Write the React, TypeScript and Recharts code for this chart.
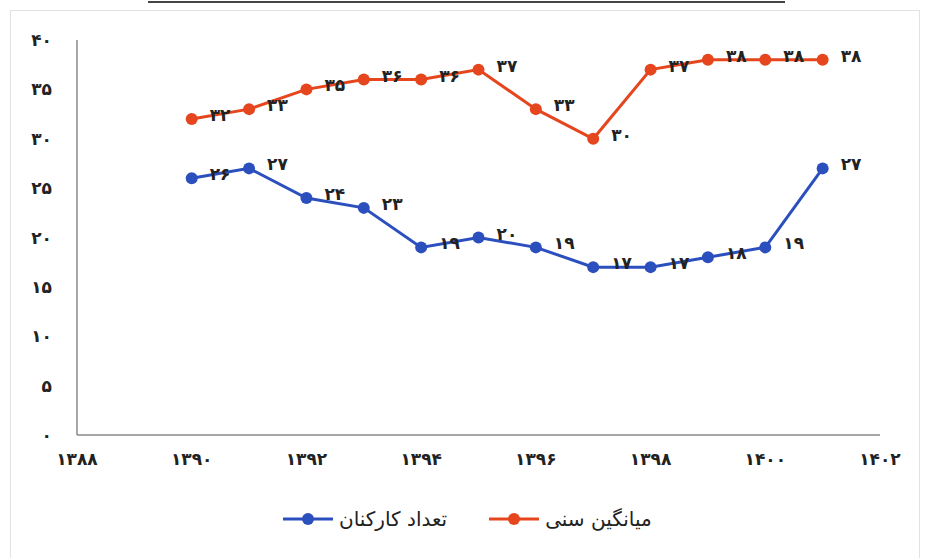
import React from "react";
import { LineChart, Line, XAxis, YAxis, Legend, LabelList } from "recharts";

const years = [1390, 1391, 1392, 1393, 1394, 1395, 1396, 1397, 1398, 1399, 1400, 1401];
const ageAvg = [32, 33, 35, 36, 36, 37, 33, 30, 37, 38, 38, 38];
const staffCount = [26, 27, 24, 23, 19, 20, 19, 17, 17, 18, 19, 27];
const xTicks = [1388, 1390, 1392, 1394, 1396, 1398, 1400, 1402];
const yTicks = [0, 5, 10, 15, 20, 25, 30, 35, 40];
const ageName = "میانگین سنی";
const staffName = "تعداد کارکنان";

const ORANGE = "#E5461E";
const BLUE = "#2C4FBE";
const FONT = "'DejaVu Sans', sans-serif";

const faDigits = "۰۱۲۳۴۵۶۷۸۹";
const toFa = (v: number | string) => String(v).replace(/[0-9]/g, (d) => faDigits[Number(d)]);

const data = years.map((y, i) => ({ year: y, age: ageAvg[i], staff: staffCount[i] }));

const LegendContent = () => {
  const item = (color: string, label: string) => (
    <div style={{ display: "flex", alignItems: "center", gap: 6 }}>
      <svg width={50} height={14}>
        <line x1={0} y1={7} x2={50} y2={7} stroke={color} strokeWidth={3} />
        <circle cx={25} cy={7} r={6} fill={color} />
      </svg>
      <span style={{ fontFamily: FONT, fontSize: 20, color: "#222" }}>{label}</span>
    </div>
  );
  return (
    <div style={{ display: "flex", justifyContent: "flex-start", gap: 42, paddingLeft: 283 }}>
      {item(BLUE, staffName)}
      {item(ORANGE, ageName)}
    </div>
  );
};

const labelStyle = { fontFamily: FONT, fontSize: 17, fontWeight: "bold", fill: "#222" };

export default function App() {
  return (
    <div style={{ position: "absolute", left: 0, top: 0, width: 925, height: 558, background: "#fff" }}>
      <div style={{ position: "absolute", left: 148, top: 1, width: 637, height: 2, background: "#444" }} />
      <div style={{ position: "absolute", left: 10, top: 10, width: 908, height: 560, border: "1px solid #e2e2e2" }} />
      <LineChart
        width={925}
        height={558}
        data={data}
        margin={{ top: 40, right: 45, left: 0, bottom: 53 }}
        style={{ position: "absolute", left: 0, top: 0 }}
      >
        <XAxis
          dataKey="year"
          type="number"
          domain={[1388, 1402]}
          ticks={xTicks}
          tickFormatter={(v) => toFa(v)}
          height={30}
          tickLine={false}
          tickMargin={12}
          axisLine={{ stroke: "#8a8a8a", strokeWidth: 1.5 }}
          tick={labelStyle}
          interval={0}
        />
        <YAxis
          type="number"
          domain={[0, 40]}
          ticks={yTicks}
          tickFormatter={(v) => toFa(v)}
          width={77}
          tickLine={false}
          tickMargin={19}
          axisLine={{ stroke: "#8a8a8a", strokeWidth: 1.5 }}
          tick={labelStyle}
          interval={0}
        />
        <Legend
          verticalAlign="bottom"
          height={40}
          content={<LegendContent />}
          wrapperStyle={{ top: 507, left: 0, width: 925 }}
        />
        <Line
          dataKey="age"
          name={ageName}
          stroke={ORANGE}
          strokeWidth={3}
          dot={{ r: 6, fill: ORANGE, stroke: ORANGE, strokeWidth: 0 }}
          isAnimationActive={false}
        >
          <LabelList
            dataKey="age"
            position="right"
            offset={18}
            dy={-4}
            formatter={(v: any) => toFa(v)}
            style={labelStyle}
          />
        </Line>
        <Line
          dataKey="staff"
          name={staffName}
          stroke={BLUE}
          strokeWidth={3}
          dot={{ r: 6, fill: BLUE, stroke: BLUE, strokeWidth: 0 }}
          isAnimationActive={false}
        >
          <LabelList
            dataKey="staff"
            position="right"
            offset={18}
            dy={-4}
            formatter={(v: any) => toFa(v)}
            style={labelStyle}
          />
        </Line>
      </LineChart>
    </div>
  );
}
